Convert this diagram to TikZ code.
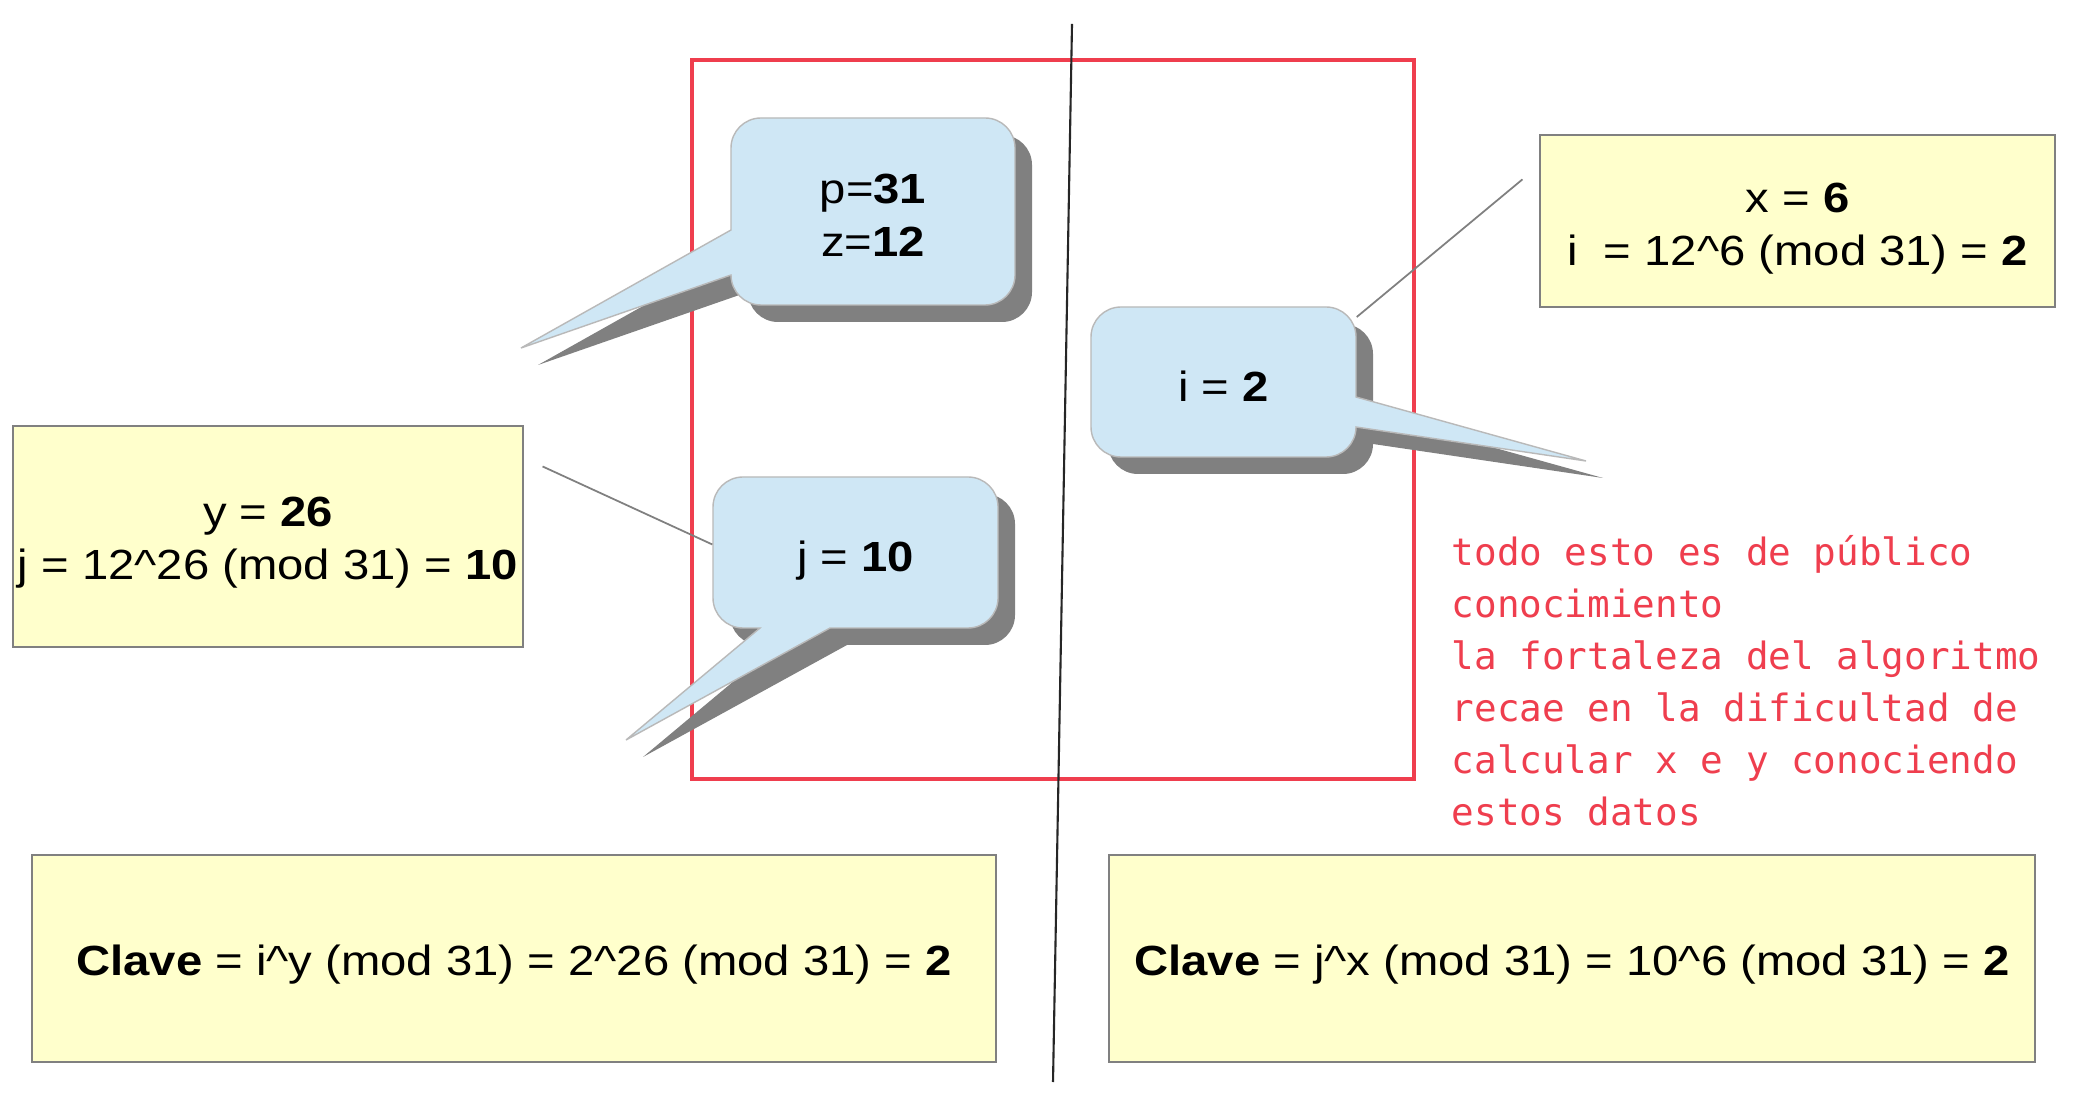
\documentclass[tikz,border=0pt]{standalone}
\usepackage{fontspec}
\setmainfont{Liberation Sans}[FakeStretch=1.12]
\newfontfamily\monorojo{DejaVu Sans Mono}
\definecolor{amarillo}{HTML}{FFFFCC}
\definecolor{celeste}{HTML}{CFE7F5}
\definecolor{sombra}{HTML}{808080}
\definecolor{rojo}{HTML}{EF3E4E}

\begin{document}
\begin{tikzpicture}[
	caja/.style={shape=rectangle, draw=gray, line width=0.8pt, fill=amarillo, inner sep=1pt, align=center, font=\fontsize{12}{15.1}\selectfont, execute at begin node={\rule{0pt}{12pt}}},
	globo/.style={draw=gray!55, line width=0.4pt, fill=celeste, preaction={fill=sombra, transform canvas={xshift=0.17cm, yshift=-0.17cm}}},
	textoglobo/.style={shape=rectangle, inner sep=0pt, align=center, font=\fontsize{12}{15.1}\selectfont, execute at begin node={\rule{0pt}{11pt}}},
	guia/.style={draw=gray, line width=0.5pt}]
	% Frame, divider and speech bubbles:
	\useasboundingbox (0, 0) rectangle (20.82, 10.94);
	\fill[white] (0, 0) rectangle (20.82, 10.94);
	\draw[rojo, line width=1.1pt] (6.92, 3.15) rectangle (14.14, 10.34);
	\draw[black!85, line width=0.6pt] (10.72, 10.70) -- (10.53, 0.12);
	\path[globo] (7.31, 8.64) -- (7.31, 9.46) arc[start angle=180, end angle=90, radius=0.3] -- (9.85, 9.76) arc[start angle=90, end angle=0, radius=0.3] -- (10.15, 8.19) arc[start angle=0, end angle=-90, radius=0.3] -- (7.61, 7.89) arc[start angle=270, end angle=180, radius=0.3] -- (5.21, 7.46) -- cycle;
	\path[globo] (13.56, 6.97) -- (15.86, 6.33) -- (13.56, 6.67) arc[start angle=0, end angle=-90, radius=0.3] -- (11.21, 6.37) arc[start angle=270, end angle=180, radius=0.3] -- (10.91, 7.57) arc[start angle=180, end angle=90, radius=0.3] -- (13.26, 7.87) arc[start angle=90, end angle=0, radius=0.3] -- cycle;
	\path[globo] (8.30, 4.66) -- (6.26, 3.54) -- (7.60, 4.66) -- (7.43, 4.66) arc[start angle=270, end angle=180, radius=0.3] -- (7.13, 5.87) arc[start angle=180, end angle=90, radius=0.3] -- (9.68, 6.17) arc[start angle=90, end angle=0, radius=0.3] -- (9.98, 4.96) arc[start angle=0, end angle=-90, radius=0.3] -- cycle;
	\node[textoglobo, minimum width=2.84cm, minimum height=1.87cm] (pz) at (8.73, 8.825) {\rule{0pt}{10.5pt}p=\textbf{31}\\z=\textbf{12}};
	\node[textoglobo, minimum width=2.65cm, minimum height=1.50cm] (ibub) at (12.235, 7.12) {i = \textbf{2}};
	\node[textoglobo, minimum width=2.85cm, minimum height=1.51cm] (jbub) at (8.555, 5.37) {j = \textbf{10}};
	% Boxes and notes:
	\node[caja, minimum width=5.15cm, minimum height=1.72cm] (cajax) at (17.975, 8.73) {\rule{0pt}{12.5pt}x = \textbf{6}\\i\ \ = 12\textasciicircum{}6 (mod 31) = \textbf{2}};
	\node[caja, minimum width=5.10cm, minimum height=2.21cm] (cajay) at (2.68, 5.575) {\rule{0pt}{12pt}y = \textbf{26}\\j = 12\textasciicircum{}26 (mod 31) = \textbf{10}};
	\node[caja, minimum width=9.64cm, minimum height=2.07cm] (clavei) at (5.14, 1.355) {\textbf{Clave} = i\textasciicircum{}y (mod 31) = 2\textasciicircum{}26 (mod 31) = \textbf{2}};
	\node[caja, minimum width=9.26cm, minimum height=2.07cm] (clavej) at (15.72, 1.355) {\textbf{Clave} = j\textasciicircum{}x (mod 31) = 10\textasciicircum{}6 (mod 31) = \textbf{2}};
	\draw[guia, shorten <=0.2cm] (cajay.17) -- (jbub.175);
	\draw[guia, shorten <=0.21cm] (cajax.168) -- (ibub.26);
	\node[anchor=north west, inner sep=0pt, align=left, text=rojo, font=\monorojo\fontsize{10.7}{14.8}\selectfont] (nota) at (14.51, 5.59) {todo esto es de público\\conocimiento\\la fortaleza del algoritmo\\recae en la dificultad de\\calcular x e y conociendo\\estos datos};
\end{tikzpicture}
\end{document}
